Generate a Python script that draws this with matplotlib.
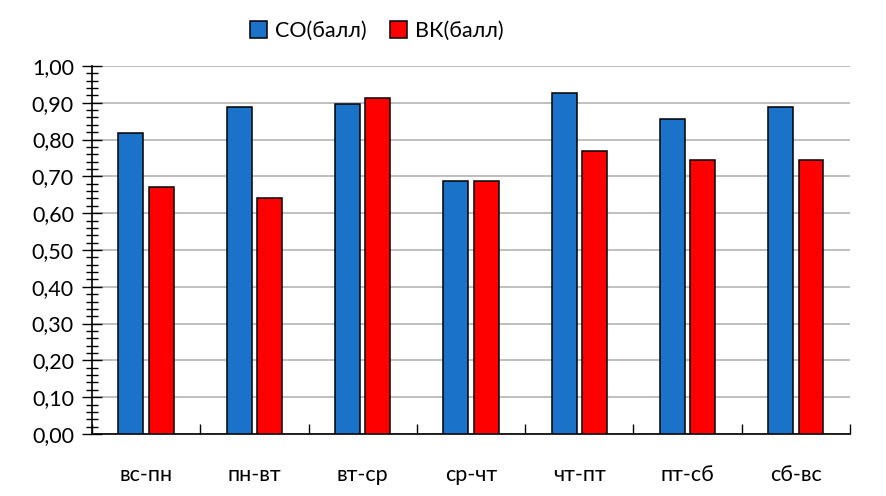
import matplotlib
matplotlib.use('Agg')
import matplotlib.pyplot as plt
from matplotlib.ticker import MultipleLocator, FuncFormatter
import numpy as np

plt.rcParams['font.family'] = ['Lato', 'DejaVu Sans']

categories = ['вс-пн', 'пн-вт', 'вт-ср', 'ср-чт', 'чт-пт', 'пт-сб', 'сб-вс']
so_values = [0.817, 0.889, 0.898, 0.687, 0.927, 0.855, 0.889]
vk_values = [0.671, 0.640, 0.913, 0.688, 0.770, 0.744, 0.745]
series_names = ['СО(балл)', 'ВК(балл)']

fig = plt.figure(figsize=(8.86, 4.96), dpi=100)
ax = fig.add_axes([0.1038, 0.125, 0.8556, 0.742])

x = np.arange(len(categories))
w = 0.23
ax.bar(x - 0.14, so_values, w, color='#1a73c9', edgecolor='black', linewidth=1.1,
       label=series_names[0], zorder=3)
ax.bar(x + 0.14, vk_values, w, color='#ff0000', edgecolor='black', linewidth=1.1,
       label=series_names[1], zorder=3)

ax.set_ylim(0, 1.0)
ax.set_xlim(-0.5, len(categories) - 0.5)

ax.yaxis.set_major_locator(MultipleLocator(0.1))
ax.yaxis.set_minor_locator(MultipleLocator(0.02))
ax.yaxis.set_major_formatter(FuncFormatter(lambda v, p: f'{v:.2f}'.replace('.', ',')))
ax.tick_params(axis='y', which='major', direction='inout', length=14, width=1,
               labelsize=15.5, pad=6)
ax.tick_params(axis='y', which='minor', direction='inout', length=8, width=1)

ax.set_xticks(x)
ax.set_xticklabels(categories)
ax.set_xticks(np.arange(len(categories) + 1) - 0.5, minor=True)
ax.tick_params(axis='x', which='major', length=0, labelsize=15.5, pad=22)
ax.tick_params(axis='x', which='minor', direction='in', length=7, width=1)

ax.grid(axis='y', which='major', color='#b4b4b4', linewidth=1.2, zorder=0)
ax.set_axisbelow(True)
for s in ['top', 'right']:
    ax.spines[s].set_visible(False)
ax.spines['left'].set_linewidth(1.2)
ax.spines['bottom'].set_linewidth(1.2)

fig.legend(loc='center', bbox_to_anchor=(0.425, 0.938), ncol=2, frameon=False,
           fontsize=15.5, handlelength=0.8, handleheight=0.8, handletextpad=0.35,
           columnspacing=1.1)

fig.savefig('out.png', dpi=100)
